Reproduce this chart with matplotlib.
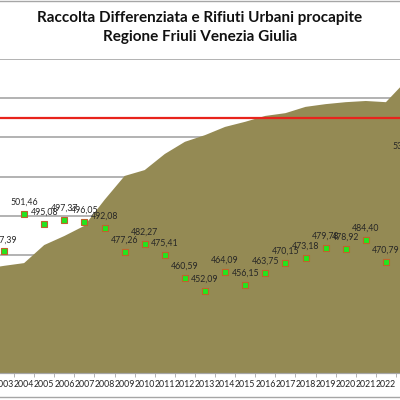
import matplotlib
matplotlib.use("Agg")
from matplotlib import pyplot as plt
from matplotlib.lines import Line2D
from matplotlib.ticker import MultipleLocator

# Raccolta differenziata (%) per anno - area
rd_years = list(range(2002, 2024))
rd_pct = [26.5, 27.3, 28.0, 32.6, 34.9, 37.5, 44.1, 50.2, 51.7, 55.8, 58.9,
          60.6, 62.7, 64.0, 65.5, 66.2, 67.8, 68.5, 69.0, 69.3, 69.0, 74.4]

# Rifiuti urbani procapite (kg/ab) - markers
ru_years = list(range(2003, 2024))
ru_kg = [477.39, 501.46, 495.08, 497.37, 496.05, 492.08, 477.26, 482.27,
         475.41, 460.59, 452.09, 464.09, 456.15, 463.75, 470.15, 473.18,
         479.78, 478.92, 484.40, 470.79, 537.00]

rd_target = 65
title_lines = ["Raccolta Differenziata e Rifiuti Urbani procapite",
               "Regione Friuli Venezia Giulia"]

plt.rcParams['font.family'] = ['Lato', 'DejaVu Sans']

fig = plt.figure(figsize=(4, 4), dpi=100)
ax_rd = fig.add_axes([0, 0.0675, 1, 0.785])
ax_ru = ax_rd.twinx()

# area + target on the percentage axis
ax_rd.fill_between(rd_years, rd_pct, 0, color='#948A54', linewidth=0, zorder=2)
ax_rd.axhline(rd_target, color='#E8231C', linewidth=1.6, zorder=3)
ax_rd.set_ylim(0, 80)
ax_rd.yaxis.set_major_locator(MultipleLocator(10))
ax_rd.set_axisbelow(True)
ax_rd.grid(axis='y', color='#A6A6A6', linewidth=1.2)
ax_rd.tick_params(axis='y', left=False, labelleft=False)

ax_rd.set_xticks(ru_years)
ax_rd.set_xticklabels([str(y) for y in ru_years], fontsize=6.3, color='#222222')
ax_rd.set_xticks([y + 0.5 for y in range(2002, 2024)], minor=True)
ax_rd.tick_params(axis='x', which='major', length=0, pad=5)
ax_rd.tick_params(axis='x', which='minor', length=3, color='#A6A6A6')

# procapite markers on top
ax_ru.set_zorder(ax_rd.get_zorder() + 1)
ax_ru.patch.set_visible(False)
ax_ru.plot(ru_years, ru_kg, linestyle='none', marker='s', markersize=5,
           markerfacecolor='#22E61E', markeredgecolor='#C0622B', markeredgewidth=0.8)
for yr, v in zip(ru_years, ru_kg):
    ax_ru.annotate(f"{v:.2f}".replace('.', ','), (yr, v), xytext=(0, 8.5),
                   textcoords='offset points', ha='center', va='center',
                   fontsize=6.3, color='#262626', annotation_clip=False)
ax_ru.set_ylim(400, 600)
ax_ru.tick_params(axis='y', right=False, labelright=False)

# the picture is a crop: 2003 sits at the left edge
ax_rd.set_xlim(2002.8, 2022.7)

for a in (ax_rd, ax_ru):
    for side in ('left', 'right', 'top'):
        a.spines[side].set_visible(False)
    a.spines['bottom'].set_color('#A6A6A6')

fig.text(0.5, 0.955, title_lines[0], ha='center', va='center', fontsize=11,
         fontweight='bold', color='#111111')
fig.text(0.5, 0.9075, title_lines[1], ha='center', va='center', fontsize=11,
         fontweight='bold', color='#111111')

# chart frame lines at the top and bottom of the crop
fig.add_artist(Line2D([0, 1], [0.998, 0.998], color='#A6A6A6', linewidth=1))
fig.add_artist(Line2D([0, 1], [0.008, 0.008], color='#A6A6A6', linewidth=1))

fig.savefig("out.png", dpi=100)
